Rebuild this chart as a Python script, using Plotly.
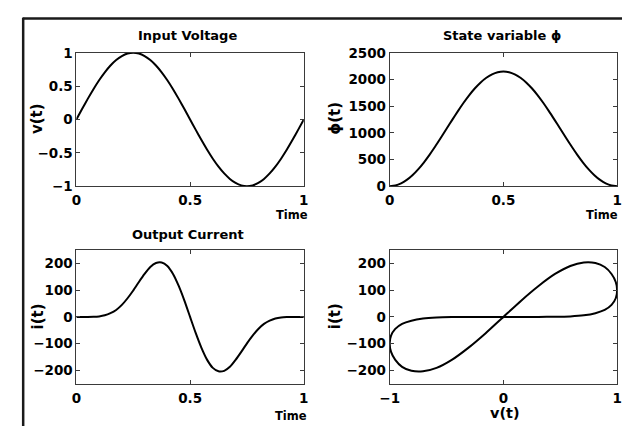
import plotly.graph_objects as go

# ---- data ----
t = [0.0, 0.025, 0.05, 0.075, 0.1, 0.125, 0.15, 0.175, 0.2, 0.225, 0.25,
     0.275, 0.3, 0.325, 0.35, 0.375, 0.4, 0.425, 0.45, 0.475, 0.5,
     0.525, 0.55, 0.575, 0.6, 0.625, 0.65, 0.675, 0.7, 0.725, 0.75,
     0.775, 0.8, 0.825, 0.85, 0.875, 0.9, 0.925, 0.95, 0.975, 1.0]

v = [0.0, 0.156, 0.309, 0.454, 0.588, 0.707, 0.809, 0.891, 0.951, 0.988, 1.0,
     0.988, 0.951, 0.891, 0.809, 0.707, 0.588, 0.454, 0.309, 0.156, 0.0,
     -0.156, -0.309, -0.454, -0.588, -0.707, -0.809, -0.891, -0.951, -0.988, -1.0,
     -0.988, -0.951, -0.891, -0.809, -0.707, -0.588, -0.454, -0.309, -0.156, 0.0]

phi = [0, 13, 53, 117, 205, 315, 443, 587, 743, 907, 1075,
       1243, 1407, 1563, 1707, 1835, 1945, 2033, 2097, 2137, 2150,
       2137, 2097, 2033, 1945, 1835, 1707, 1563, 1407, 1243, 1075,
       907, 743, 587, 443, 315, 205, 117, 53, 13, 0]

cur = [0, 0, 0.1, 0.5, 2, 6, 14, 26, 45, 70, 99,
       131, 161, 187, 202, 204, 191, 161, 116, 61, 0,
       -61, -116, -161, -191, -204, -202, -187, -161, -131, -99,
       -70, -45, -26, -14, -6, -2, -0.5, -0.1, 0, 0]

time_ticks = [0, 0.5, 1]
time_labels = ["0", "0.5", "1"]
v_ticks = [-1, -0.5, 0, 0.5, 1]
v_labels = ["\u22121", "\u22120.5", "0", "0.5", "1"]
phi_ticks = [0, 500, 1000, 1500, 2000, 2500]
phi_labels = ["0", "500", "1000", "1500", "2000", "2500"]
i_ticks = [-200, -100, 0, 100, 200]
i_labels = ["\u2212200", "\u2212100", "0", "100", "200"]
vx_ticks = [-1, 0, 1]
vx_labels = ["\u22121", "0", "1"]

titles = ["Input Voltage", "State variable \u03d5", "Output Current"]

W, H = 627, 434
FONT = "DejaVu Sans, Arial, sans-serif"
line = dict(color="black", width=2, shape="spline", smoothing=0.6)

fig = go.Figure()
fig.add_trace(go.Scatter(x=t, y=v, mode="lines", line=line, xaxis="x", yaxis="y"))
fig.add_trace(go.Scatter(x=t, y=phi, mode="lines", line=line, xaxis="x2", yaxis="y2"))
fig.add_trace(go.Scatter(x=t, y=cur, mode="lines", line=line, xaxis="x3", yaxis="y3"))
fig.add_trace(go.Scatter(x=v, y=cur, mode="lines", line=line, xaxis="x4", yaxis="y4"))

def px_x(p):
    return p / W

def px_y(p):
    return 1 - p / H

left_dom = [px_x(68), px_x(301)]
right_dom = [px_x(389), px_x(622)]
top_dom = [px_y(185), px_y(46.5)]
bot_dom = [px_y(390), px_y(251.5)]

tickfont = dict(family=FONT, size=13.5, color="black", weight="bold")
common = dict(showline=True, linecolor="#3a3a3a", linewidth=1, mirror="ticks",
              ticks="inside", ticklen=4, tickcolor="#3a3a3a", tickwidth=1,
              showgrid=False, zeroline=False, tickfont=tickfont,
              ticklabeloverflow="allow")

def xax(dom, anchor, rng, tv, tt):
    return dict(domain=dom, anchor=anchor, range=rng, tickvals=tv, ticktext=tt,
                tickmode="array", ticklabelstandoff=2, **common)

def yax(dom, anchor, rng, tv, tt):
    return dict(domain=dom, anchor=anchor, range=rng, tickvals=tv, ticktext=tt,
                tickmode="array", **common)

fig.update_layout(
    width=W, height=H, margin=dict(l=0, r=0, t=0, b=0),
    paper_bgcolor="white", plot_bgcolor="white", showlegend=False,
    xaxis=xax(left_dom, "y", [0, 1], time_ticks, time_labels),
    yaxis=yax(top_dom, "x", [-1, 1], v_ticks, v_labels),
    xaxis2=xax(right_dom, "y2", [0, 1], time_ticks, time_labels),
    yaxis2=yax(top_dom, "x2", [0, 2500], phi_ticks, phi_labels),
    xaxis3=xax(left_dom, "y3", [0, 1], time_ticks, time_labels),
    yaxis3=yax(bot_dom, "x3", [-250, 250], i_ticks, i_labels),
    xaxis4=xax(right_dom, "y4", [-1, 1], vx_ticks, vx_labels),
    yaxis4=yax(bot_dom, "x4", [-250, 250], i_ticks, i_labels),
)

ann = []
def text(x, y, s, size=12, angle=0):
    ann.append(dict(x=px_x(x), y=px_y(y), xref="paper", yref="paper", text="<b>%s</b>" % s,
                    showarrow=False, textangle=angle, xanchor="center", yanchor="middle",
                    font=dict(family=FONT, size=size, color="black")))

text(182, 29, titles[0], 13)
text(504, 29, titles[1], 13)
text(182, 235, titles[2], 13)
text(289, 215, "Time", 11.5)
text(607, 215, "Time", 11.5)
text(288, 424, "Time", 11.5)
text(507, 421, "v(t)", 14.5)
text(27, 115, "v(t)", 15, -90)
text(333, 115, "\u03d5(t)", 15, -90)
text(29, 320, "i(t)", 15, -90)
text(333, 320, "i(t)", 15, -90)
fig.update_layout(annotations=ann)

fig.update_layout(shapes=[
    dict(type="line", xref="paper", yref="paper", x0=px_x(13), y0=px_y(11), x1=1, y1=px_y(11),
         line=dict(color="#1a1a1a", width=2.5)),
    dict(type="line", xref="paper", yref="paper", x0=px_x(13.5), y0=px_y(10), x1=px_x(13.5), y1=0,
         line=dict(color="#1a1a1a", width=2.5)),
])

fig.write_html(
    "out.html",
    config={"displayModeBar": False, "staticPlot": True},
    post_script=(
        "var s=document.createElement('style');"
        "s.innerHTML='html,body{margin:0!important;padding:0!important;overflow:hidden!important;}';"
        "document.head.appendChild(s);"
        "var g=document.getElementById('{plot_id}');"
        "g.style.position='absolute';g.style.left='0px';g.style.top='0px';"
    ),
)
